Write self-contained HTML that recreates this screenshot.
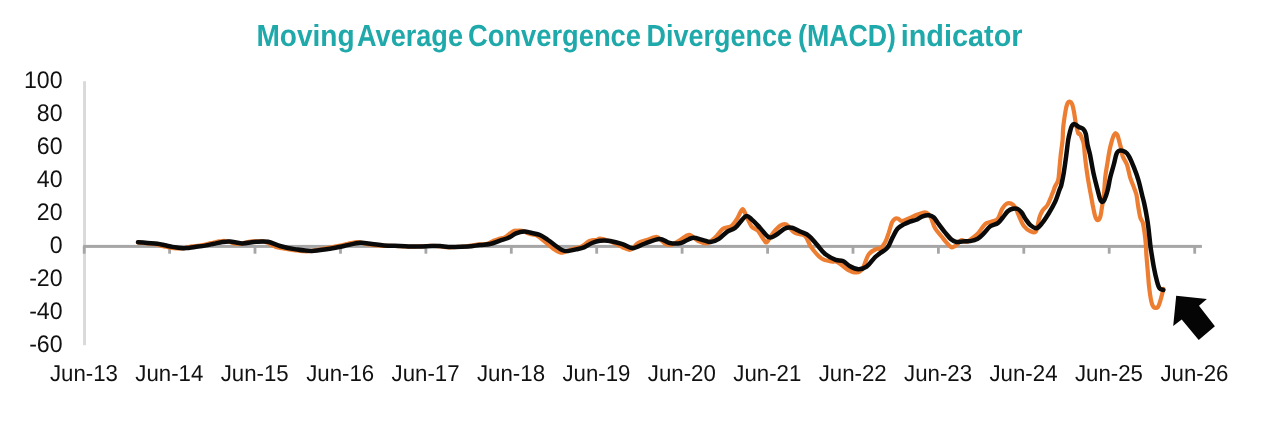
<!DOCTYPE html>
<html><head><meta charset="utf-8"><title>MACD</title>
<style>
html,body{margin:0;padding:0;background:#fff}
body{width:1280px;height:439px;overflow:hidden}
svg{display:block}
.lbl text{text-rendering:geometricPrecision;font-family:"Liberation Sans",sans-serif;font-size:24px;fill:#111}
.ttl text{text-rendering:geometricPrecision;font-family:"Liberation Sans",sans-serif;font-weight:bold;font-size:30.5px;fill:#1fa9aa}
</style></head><body>
<svg width="1280" height="439" viewBox="0 0 1280 439">
<rect width="1280" height="439" fill="#fff"/>
<g class="ttl" transform="translate(0 46.3)"><text y="0"><tspan x="256.40" textLength="98.20" lengthAdjust="spacingAndGlyphs">Moving</tspan> <tspan x="357.00" textLength="106.00" lengthAdjust="spacingAndGlyphs">Average</tspan> <tspan x="468.00" textLength="173.00" lengthAdjust="spacingAndGlyphs">Convergence</tspan> <tspan x="646.60" textLength="145.30" lengthAdjust="spacingAndGlyphs">Divergence</tspan> <tspan x="798.00" textLength="98.00" lengthAdjust="spacingAndGlyphs">(MACD)</tspan> <tspan x="900.70" textLength="121.80" lengthAdjust="spacingAndGlyphs">indicator</tspan></text></g>
<rect x="83.1" y="81.2" width="2.9" height="264" fill="#d9d9d9"/>
<rect x="83.2" y="244.9" width="1118.7" height="3" fill="#a6a6a6"/>
<rect x="82.8" y="246" width="2.8" height="7.7" fill="#a6a6a6"/><rect x="168.2" y="246" width="2.8" height="7.7" fill="#a6a6a6"/><rect x="253.6" y="246" width="2.8" height="7.7" fill="#a6a6a6"/><rect x="339.1" y="246" width="2.8" height="7.7" fill="#a6a6a6"/><rect x="424.5" y="246" width="2.8" height="7.7" fill="#a6a6a6"/><rect x="509.9" y="246" width="2.8" height="7.7" fill="#a6a6a6"/><rect x="595.3" y="246" width="2.8" height="7.7" fill="#a6a6a6"/><rect x="680.7" y="246" width="2.8" height="7.7" fill="#a6a6a6"/><rect x="766.2" y="246" width="2.8" height="7.7" fill="#a6a6a6"/><rect x="851.6" y="246" width="2.8" height="7.7" fill="#a6a6a6"/><rect x="937.0" y="246" width="2.8" height="7.7" fill="#a6a6a6"/><rect x="1022.4" y="246" width="2.8" height="7.7" fill="#a6a6a6"/><rect x="1107.8" y="246" width="2.8" height="7.7" fill="#a6a6a6"/><rect x="1193.3" y="246" width="2.8" height="7.7" fill="#a6a6a6"/>
<g class="lbl"><text transform="translate(62.6 87.6) scale(0.965 1)" text-anchor="end">100</text><text transform="translate(62.6 120.7) scale(0.965 1)" text-anchor="end">80</text><text transform="translate(62.6 153.8) scale(0.965 1)" text-anchor="end">60</text><text transform="translate(62.6 186.9) scale(0.965 1)" text-anchor="end">40</text><text transform="translate(62.6 220.0) scale(0.965 1)" text-anchor="end">20</text><text transform="translate(62.6 253.1) scale(0.965 1)" text-anchor="end">0</text><text transform="translate(62.6 286.1) scale(0.965 1)" text-anchor="end">-20</text><text transform="translate(62.6 319.2) scale(0.965 1)" text-anchor="end">-40</text><text transform="translate(62.6 352.3) scale(0.965 1)" text-anchor="end">-60</text><text style="font-size:23px" transform="translate(83.9 381.0) scale(0.967 1)" text-anchor="middle">Jun-13</text><text style="font-size:23px" transform="translate(169.3 381.0) scale(0.967 1)" text-anchor="middle">Jun-14</text><text style="font-size:23px" transform="translate(254.7 381.0) scale(0.967 1)" text-anchor="middle">Jun-15</text><text style="font-size:23px" transform="translate(340.2 381.0) scale(0.967 1)" text-anchor="middle">Jun-16</text><text style="font-size:23px" transform="translate(425.6 381.0) scale(0.967 1)" text-anchor="middle">Jun-17</text><text style="font-size:23px" transform="translate(511.0 381.0) scale(0.967 1)" text-anchor="middle">Jun-18</text><text style="font-size:23px" transform="translate(596.4 381.0) scale(0.967 1)" text-anchor="middle">Jun-19</text><text style="font-size:23px" transform="translate(681.8 381.0) scale(0.967 1)" text-anchor="middle">Jun-20</text><text style="font-size:23px" transform="translate(767.3 381.0) scale(0.967 1)" text-anchor="middle">Jun-21</text><text style="font-size:23px" transform="translate(852.7 381.0) scale(0.967 1)" text-anchor="middle">Jun-22</text><text style="font-size:23px" transform="translate(938.1 381.0) scale(0.967 1)" text-anchor="middle">Jun-23</text><text style="font-size:23px" transform="translate(1023.5 381.0) scale(0.967 1)" text-anchor="middle">Jun-24</text><text style="font-size:23px" transform="translate(1108.9 381.0) scale(0.967 1)" text-anchor="middle">Jun-25</text><text style="font-size:23px" transform="translate(1194.4 381.0) scale(0.967 1)" text-anchor="middle">Jun-26</text></g>
<path d="M138.0 242.4C138.5 242.5 140.0 242.7 141.0 242.8C142.0 243.0 143.0 243.0 144.0 243.1C145.0 243.2 146.0 243.2 147.0 243.3C148.0 243.4 149.0 243.5 150.0 243.6C151.0 243.7 152.0 243.7 153.0 243.9C154.0 244.0 155.0 244.1 156.0 244.3C157.0 244.5 158.0 244.8 159.0 245.1C160.0 245.3 161.0 245.6 162.0 245.9C163.0 246.2 164.0 246.4 165.0 246.6C166.0 246.9 167.0 247.1 168.0 247.3C169.0 247.5 170.0 247.7 171.0 247.8C172.0 247.9 173.0 248.0 174.0 248.1C175.0 248.2 176.0 248.3 177.0 248.3C178.0 248.4 179.0 248.5 180.0 248.5C181.0 248.5 182.0 248.5 183.0 248.3C184.0 248.2 185.0 248.0 186.0 247.8C187.0 247.6 188.0 247.3 189.0 247.0C190.0 246.8 191.0 246.6 192.0 246.4C193.0 246.3 194.0 246.2 195.0 246.1C196.0 246.0 197.0 245.9 198.0 245.8C199.0 245.7 200.0 245.6 201.0 245.4C202.0 245.2 203.0 245.0 204.0 244.8C205.0 244.6 206.0 244.3 207.0 244.1C208.0 243.9 209.0 243.6 210.0 243.3C211.0 243.1 212.0 242.9 213.0 242.7C214.0 242.4 215.0 242.2 216.0 242.0C217.0 241.8 218.0 241.6 219.0 241.4C220.0 241.3 221.0 241.1 222.0 241.1C223.0 241.0 224.0 240.9 225.0 241.0C226.0 241.0 227.0 241.2 228.0 241.4C229.0 241.6 230.0 242.0 231.0 242.4C232.0 242.7 233.0 243.1 234.0 243.4C235.0 243.6 236.0 243.8 237.0 243.9C238.0 244.0 239.0 244.0 240.0 243.9C241.0 243.7 242.0 243.5 243.0 243.3C244.0 243.0 245.0 242.7 246.0 242.5C247.0 242.2 248.0 242.0 249.0 241.8C250.0 241.7 251.0 241.5 252.0 241.4C253.0 241.3 254.0 241.3 255.0 241.3C256.0 241.3 257.0 241.3 258.0 241.3C259.0 241.3 260.0 241.2 261.0 241.2C262.0 241.3 263.0 241.4 264.0 241.6C265.0 241.8 266.0 242.1 267.0 242.5C268.0 242.9 269.0 243.5 270.0 244.0C271.0 244.5 272.0 245.2 273.0 245.7C274.0 246.2 275.0 246.6 276.0 247.0C277.0 247.3 278.0 247.4 279.0 247.6C280.0 247.8 281.0 247.9 282.0 248.1C283.0 248.2 284.0 248.5 285.0 248.6C286.0 248.8 287.0 249.0 288.0 249.2C289.0 249.4 290.0 249.5 291.0 249.7C292.0 249.8 293.0 250.0 294.0 250.1C295.0 250.2 296.0 250.4 297.0 250.5C298.0 250.6 299.0 250.8 300.0 250.9C301.0 251.0 302.0 251.1 303.0 251.2C304.0 251.2 305.0 251.3 306.0 251.3C307.0 251.3 308.0 251.3 309.0 251.2C310.0 251.1 311.0 251.0 312.0 250.9C313.0 250.8 314.0 250.6 315.0 250.4C316.0 250.2 317.0 250.0 318.0 249.8C319.0 249.6 320.0 249.4 321.0 249.2C322.0 249.0 323.0 248.9 324.0 248.7C325.0 248.5 326.0 248.3 327.0 248.2C328.0 248.0 329.0 247.8 330.0 247.7C331.0 247.5 332.0 247.3 333.0 247.0C334.0 246.8 335.0 246.6 336.0 246.4C337.0 246.2 338.0 246.0 339.0 245.8C340.0 245.6 341.0 245.4 342.0 245.2C343.0 245.0 344.0 244.8 345.0 244.5C346.0 244.3 347.0 244.0 348.0 243.8C349.0 243.5 350.0 243.3 351.0 243.0C352.0 242.8 353.0 242.6 354.0 242.5C355.0 242.4 356.0 242.2 357.0 242.2C358.0 242.2 359.0 242.3 360.0 242.4C361.0 242.5 362.0 242.8 363.0 243.1C364.0 243.3 365.0 243.6 366.0 243.9C367.0 244.1 368.0 244.3 369.0 244.5C370.0 244.6 371.0 244.7 372.0 244.8C373.0 244.9 374.0 245.0 375.0 245.1C376.0 245.3 377.0 245.4 378.0 245.5C379.0 245.6 380.0 245.7 381.0 245.8C382.0 245.8 383.0 245.8 384.0 245.8C385.0 245.9 386.0 245.9 387.0 245.9C388.0 245.9 389.0 245.9 390.0 245.9C391.0 245.9 392.0 245.9 393.0 246.0C394.0 246.0 395.0 246.0 396.0 246.0C397.0 246.1 398.0 246.1 399.0 246.2C400.0 246.2 401.0 246.3 402.0 246.3C403.0 246.4 404.0 246.5 405.0 246.5C406.0 246.6 407.0 246.6 408.0 246.6C409.0 246.7 410.0 246.7 411.0 246.7C412.0 246.7 413.0 246.7 414.0 246.7C415.0 246.6 416.0 246.6 417.0 246.5C418.0 246.5 419.0 246.4 420.0 246.3C421.0 246.3 422.0 246.2 423.0 246.1C424.0 246.1 425.0 246.0 426.0 246.0C427.0 245.9 428.0 245.9 429.0 245.9C430.0 245.8 431.0 245.8 432.0 245.8C433.0 245.8 434.0 245.8 435.0 245.8C436.0 245.9 437.0 246.0 438.0 246.1C439.0 246.2 440.0 246.4 441.0 246.5C442.0 246.7 443.0 246.9 444.0 247.0C445.0 247.1 446.0 247.2 447.0 247.2C448.0 247.3 449.0 247.3 450.0 247.3C451.0 247.2 452.0 247.2 453.0 247.1C454.0 247.1 455.0 247.0 456.0 247.0C457.0 247.0 458.0 246.9 459.0 246.9C460.0 246.8 461.0 246.8 462.0 246.7C463.0 246.6 464.0 246.6 465.0 246.5C466.0 246.4 467.0 246.3 468.0 246.1C469.0 246.0 470.0 245.8 471.0 245.6C472.0 245.4 473.0 245.2 474.0 245.0C475.0 244.8 476.0 244.6 477.0 244.5C478.0 244.4 479.0 244.4 480.0 244.3C481.0 244.3 482.0 244.3 483.0 244.3C484.0 244.2 485.0 244.2 486.0 244.0C487.0 243.8 488.0 243.5 489.0 243.1C490.0 242.7 491.0 242.2 492.0 241.7C493.0 241.2 494.0 240.7 495.0 240.3C496.0 239.9 497.0 239.5 498.0 239.2C499.0 238.8 500.0 238.6 501.0 238.4C502.0 238.1 503.0 238.0 504.0 237.6C505.0 237.1 506.0 236.6 507.0 235.9C508.0 235.3 509.0 234.3 510.0 233.5C511.0 232.8 512.0 232.0 513.0 231.5C514.0 231.0 515.0 230.8 516.0 230.7C517.0 230.5 518.0 230.5 519.0 230.5C520.0 230.5 521.0 230.5 522.0 230.7C523.0 230.9 524.0 231.4 525.0 231.8C526.0 232.2 527.0 232.9 528.0 233.3C529.0 233.7 530.0 234.0 531.0 234.2C532.0 234.4 533.0 234.4 534.0 234.7C535.0 234.9 536.0 235.1 537.0 235.6C538.0 236.1 539.0 236.8 540.0 237.6C541.0 238.4 542.0 239.4 543.0 240.2C544.0 241.1 545.0 241.9 546.0 242.7C547.0 243.5 548.0 244.3 549.0 245.1C550.0 245.9 551.0 246.7 552.0 247.5C553.0 248.3 554.0 249.1 555.0 249.8C556.0 250.5 557.0 251.2 558.0 251.7C559.0 252.2 560.0 252.6 561.0 252.7C562.0 252.8 563.0 252.4 564.0 252.2C565.0 251.9 566.0 251.5 567.0 251.1C568.0 250.7 569.0 250.3 570.0 249.9C571.0 249.5 572.0 249.1 573.0 248.8C574.0 248.5 575.0 248.3 576.0 248.1C577.0 247.8 578.0 247.8 579.0 247.5C580.0 247.2 581.0 246.8 582.0 246.2C583.0 245.7 584.0 244.8 585.0 244.1C586.0 243.3 587.0 242.3 588.0 241.7C589.0 241.1 590.0 240.7 591.0 240.5C592.0 240.2 593.0 240.2 594.0 240.1C595.0 240.0 596.0 240.2 597.0 239.9C598.0 239.6 598.2 238.4 600.0 238.5C601.8 238.6 605.3 239.6 608.0 240.5C610.7 241.4 613.9 242.8 616.4 244.0C618.9 245.2 620.8 246.5 623.0 247.5C625.2 248.5 627.9 249.9 629.7 249.8C631.5 249.7 632.6 248.1 634.0 247.0C635.4 245.9 635.8 244.2 638.0 243.0C640.2 241.8 643.9 241.0 647.0 240.0C650.1 239.0 654.1 236.9 656.4 236.9C658.7 236.9 659.5 238.8 661.0 240.0C662.5 241.2 663.8 243.2 665.6 244.0C667.4 244.8 669.8 245.0 671.7 244.7C673.6 244.4 675.3 243.0 677.0 242.0C678.7 241.0 680.0 240.1 682.0 238.9C684.0 237.7 686.5 234.5 689.2 234.8C691.9 235.2 695.5 239.6 698.4 241.0C701.3 242.4 703.9 243.9 706.6 243.4C709.3 242.9 712.1 240.4 714.8 237.9C717.5 235.4 720.3 230.6 723.0 228.7C725.7 226.8 728.8 227.9 731.2 226.2C733.6 224.5 735.4 221.2 737.3 218.4C739.2 215.6 740.9 209.5 742.4 209.2C743.9 208.9 745.0 213.5 746.5 216.4C748.0 219.3 749.8 224.2 751.7 226.6C753.6 229.0 755.8 228.5 757.8 230.7C759.8 232.9 762.5 238.1 764.0 240.0C765.5 241.9 765.5 243.2 767.0 242.0C768.5 240.8 771.0 235.5 773.2 232.8C775.4 230.1 778.2 227.0 780.4 225.6C782.6 224.2 784.1 223.4 786.5 224.6C788.9 225.8 791.6 230.9 794.7 232.8C797.8 234.7 802.3 233.5 805.0 235.9C807.7 238.3 808.4 243.3 811.1 247.1C813.8 250.8 818.0 256.0 821.4 258.4C824.8 260.8 829.2 261.0 831.6 261.5C834.0 262.0 834.6 261.1 836.0 261.5C837.4 261.9 838.0 262.3 840.0 263.7C842.0 265.1 845.3 268.3 848.0 269.8C850.7 271.3 854.0 272.7 856.4 272.5C858.8 272.3 860.5 271.8 862.5 268.8C864.5 265.8 866.3 257.8 868.7 254.4C871.1 251.1 875.0 249.6 876.9 248.7C878.8 247.8 878.6 249.9 880.0 248.9C881.4 247.9 883.5 245.3 885.0 242.6C886.5 239.9 887.6 235.9 888.8 232.6C889.9 229.3 890.9 224.9 891.9 222.6C892.9 220.3 894.0 219.4 895.0 218.8C896.0 218.2 897.1 218.4 898.2 218.8C899.4 219.2 900.1 221.1 901.9 221.0C903.7 220.9 906.4 219.5 908.8 218.5C911.2 217.5 913.8 216.0 916.3 215.0C918.8 214.0 921.9 212.7 923.9 212.5C925.9 212.3 927.0 212.8 928.2 213.8C929.5 214.9 930.2 216.4 931.4 218.8C932.5 221.2 933.4 225.3 935.1 228.2C936.8 231.1 939.3 233.7 941.4 236.3C943.5 238.9 945.9 242.1 947.7 243.9C949.5 245.8 950.5 247.2 952.0 247.4C953.5 247.6 954.8 246.3 956.4 245.1C958.0 243.9 959.8 240.6 961.5 240.1C963.2 239.6 964.8 242.2 966.5 242.0C968.2 241.8 969.6 240.2 971.5 238.8C973.4 237.4 975.8 235.8 977.7 233.8C979.6 231.8 981.3 228.7 982.8 226.9C984.3 225.1 984.8 224.1 986.5 223.2C988.2 222.3 990.9 222.0 992.8 221.3C994.7 220.6 996.2 220.9 997.8 218.8C999.4 216.7 1000.7 211.3 1002.2 208.8C1003.7 206.3 1005.1 204.7 1006.6 203.8C1008.1 202.9 1009.5 202.9 1011.0 203.5C1012.5 204.1 1013.9 205.4 1015.3 207.5C1016.6 209.6 1017.6 213.2 1019.1 216.3C1020.6 219.4 1022.2 223.8 1024.1 226.3C1026.0 228.8 1028.4 230.5 1030.4 231.3C1032.4 232.1 1034.5 233.6 1036.0 231.3C1037.5 229.0 1038.3 221.0 1039.4 217.6C1040.5 214.2 1041.2 212.8 1042.5 210.7C1043.8 208.6 1046.0 207.4 1047.5 205.0C1049.0 202.6 1050.2 198.8 1051.3 196.3C1052.3 193.8 1053.2 191.7 1053.8 190.0C1054.4 188.3 1054.3 188.1 1055.0 186.4C1055.7 184.8 1057.5 183.0 1058.2 180.1C1058.9 177.2 1059.0 173.0 1059.4 168.8C1059.8 164.6 1060.2 159.8 1060.7 155.0C1061.2 150.2 1062.2 144.6 1062.6 140.0C1063.0 135.4 1062.7 132.6 1063.2 127.6C1063.7 122.6 1065.0 114.1 1065.7 110.0C1066.4 105.9 1067.0 104.5 1067.6 103.1C1068.2 101.7 1068.8 101.4 1069.5 101.5C1070.2 101.6 1071.3 102.2 1072.0 103.8C1072.7 105.4 1073.3 108.2 1073.9 111.3C1074.5 114.4 1075.0 118.9 1075.7 122.6C1076.4 126.2 1077.5 131.3 1078.2 133.2C1078.9 135.1 1079.3 132.8 1080.0 133.9C1080.7 135.1 1081.9 138.2 1082.6 140.1C1083.2 141.9 1083.5 142.1 1083.9 145.0C1084.3 147.9 1084.6 152.9 1085.1 157.5C1085.6 162.1 1086.3 167.6 1087.0 172.6C1087.7 177.6 1088.5 182.2 1089.5 187.6C1090.5 193.0 1091.8 200.2 1092.7 205.0C1093.7 209.8 1094.4 213.8 1095.2 216.3C1096.0 218.8 1096.6 220.0 1097.4 220.1C1098.2 220.2 1099.4 219.3 1100.2 217.0C1101.0 214.7 1101.5 210.0 1102.1 206.3C1102.7 202.6 1103.4 199.8 1103.9 195.0C1104.4 190.2 1104.6 183.2 1105.2 177.6C1105.8 172.0 1107.0 165.9 1107.7 161.3C1108.4 156.7 1108.9 153.6 1109.6 150.0C1110.3 146.4 1111.4 142.5 1112.1 140.0C1112.8 137.5 1113.4 136.2 1114.0 135.1C1114.6 134.0 1115.2 133.1 1115.8 133.2C1116.4 133.3 1117.0 133.7 1117.7 135.7C1118.4 137.7 1119.6 142.6 1120.2 145.0C1120.8 147.4 1121.1 148.1 1121.5 150.0C1121.9 151.9 1121.8 153.8 1122.7 156.3C1123.6 158.8 1125.8 161.4 1127.1 165.0C1128.3 168.6 1129.0 173.8 1130.2 177.6C1131.4 181.4 1133.0 184.7 1134.0 187.6C1135.0 190.5 1135.9 192.3 1136.5 195.0C1137.1 197.7 1137.2 200.0 1137.8 203.8C1138.4 207.6 1139.5 214.5 1140.3 217.6C1141.1 220.7 1142.1 219.9 1142.8 222.6C1143.5 225.3 1144.2 230.2 1144.7 233.9C1145.2 237.6 1145.6 241.5 1145.9 245.0C1146.2 248.5 1146.0 249.6 1146.4 255.0C1146.8 260.4 1147.9 272.6 1148.3 277.6C1148.7 282.6 1148.5 281.5 1148.9 285.0C1149.3 288.5 1150.2 295.6 1150.8 298.8C1151.3 302.1 1151.7 303.1 1152.2 304.5C1152.7 305.9 1153.4 306.8 1154.0 307.4C1154.6 308.0 1155.4 307.9 1156.0 307.9C1156.6 307.9 1157.2 307.8 1157.8 307.2C1158.3 306.6 1158.7 305.6 1159.3 304.0C1159.9 302.4 1160.5 300.1 1161.2 297.6C1161.9 295.1 1163.0 290.3 1163.3 288.8" fill="none" stroke="#ed7d31" stroke-width="4.2" stroke-linecap="round" stroke-linejoin="round"/>
<path d="M138.0 242.2C139.6 242.3 144.2 242.6 147.5 242.9C150.8 243.2 154.6 243.4 157.5 243.8C160.4 244.2 162.5 244.8 165.0 245.3C167.5 245.8 170.0 246.5 172.5 246.9C175.0 247.3 177.7 247.7 180.0 247.9C182.3 248.1 183.8 248.3 186.3 248.1C188.8 247.9 191.9 247.3 195.0 246.9C198.1 246.5 201.9 246.1 205.0 245.6C208.1 245.1 210.9 244.4 213.8 243.8C216.7 243.2 219.8 242.4 222.5 242.0C225.2 241.6 226.8 241.3 230.0 241.5C233.2 241.7 237.7 243.3 242.0 243.4C246.3 243.5 251.7 242.1 256.0 241.8C260.3 241.5 264.0 241.1 268.0 241.8C272.0 242.5 275.3 244.7 280.0 246.0C284.7 247.3 290.7 248.6 296.0 249.4C301.3 250.2 306.7 251.1 312.0 251.0C317.3 250.9 322.7 249.8 328.0 249.0C333.3 248.2 338.7 247.0 344.0 246.0C349.3 245.0 355.3 243.1 360.0 242.8C364.7 242.5 368.0 243.6 372.0 244.0C376.0 244.4 379.3 245.1 384.0 245.4C388.7 245.7 394.7 245.8 400.0 246.0C405.3 246.2 410.7 246.6 416.0 246.6C421.3 246.6 428.0 246.1 432.0 246.0C436.0 245.9 436.7 245.8 440.0 246.0C443.3 246.2 447.3 246.9 452.0 247.0C456.7 247.1 463.3 246.9 468.0 246.6C472.7 246.3 476.3 245.4 480.0 245.0C483.7 244.6 486.7 244.7 490.0 244.0C493.3 243.3 497.0 241.6 500.0 240.6C503.0 239.6 505.3 239.2 508.0 238.0C510.7 236.8 513.3 234.5 516.0 233.4C518.7 232.3 521.3 231.5 524.0 231.4C526.7 231.3 529.3 232.4 532.0 233.0C534.7 233.6 537.3 233.8 540.0 235.0C542.7 236.2 545.3 238.2 548.0 240.0C550.7 241.8 553.7 244.3 556.0 246.0C558.3 247.7 560.0 249.2 562.0 250.0C564.0 250.8 565.7 251.1 568.0 251.0C570.3 250.9 573.3 250.0 576.0 249.4C578.7 248.8 581.3 248.5 584.0 247.4C586.7 246.3 589.3 244.1 592.0 243.0C594.7 241.9 597.0 241.1 600.0 240.8C603.0 240.5 606.5 240.4 610.2 241.0C614.0 241.6 618.7 242.9 622.5 244.1C626.3 245.3 629.0 248.3 632.8 248.2C636.5 248.1 640.6 245.1 645.0 243.5C649.4 241.9 655.3 239.0 659.4 238.9C663.5 238.8 666.1 242.3 669.7 243.0C673.3 243.7 677.2 243.8 681.0 243.0C684.8 242.2 688.6 238.4 692.2 237.9C695.8 237.4 699.4 239.3 702.5 240.0C705.6 240.7 708.0 242.2 710.7 242.0C713.4 241.8 716.2 240.6 718.9 238.9C721.6 237.2 724.3 233.7 727.0 231.8C729.7 229.9 732.2 230.3 735.3 227.7C738.4 225.1 742.8 217.8 745.5 216.4C748.2 215.0 749.3 217.6 751.7 219.5C754.1 221.4 757.0 224.7 759.9 227.7C762.8 230.7 766.3 236.1 769.0 237.3C771.7 238.5 773.7 236.2 776.3 234.8C778.9 233.4 782.0 229.9 784.5 228.7C787.0 227.5 788.9 227.2 791.6 227.7C794.3 228.2 798.0 230.4 800.9 231.8C803.8 233.2 806.3 233.7 809.0 235.9C811.7 238.1 814.5 242.0 817.3 245.1C820.0 248.2 822.4 251.9 825.5 254.3C828.6 256.8 832.8 258.7 835.7 259.8C838.6 260.9 840.5 259.9 842.9 261.0C845.3 262.1 847.4 264.8 850.0 266.2C852.6 267.6 855.6 269.1 858.4 269.2C861.2 269.3 863.9 268.6 866.6 266.7C869.3 264.8 872.6 259.7 874.8 257.5C877.0 255.3 877.9 255.0 880.0 253.3C882.1 251.7 885.4 250.2 887.5 247.6C889.6 245.0 890.8 240.7 892.5 237.6C894.2 234.5 895.6 231.0 897.5 228.8C899.4 226.6 901.7 225.6 903.8 224.4C905.9 223.2 907.9 222.4 910.0 221.6C912.1 220.8 914.2 220.7 916.3 219.8C918.4 218.9 920.5 217.1 922.6 216.3C924.7 215.6 927.0 215.1 928.9 215.3C930.8 215.5 932.2 216.0 933.9 217.5C935.6 219.0 937.0 221.9 938.9 224.4C940.8 226.9 943.1 230.1 945.2 232.6C947.3 235.1 949.5 237.9 951.4 239.5C953.3 241.1 954.5 241.7 956.4 242.0C958.3 242.3 960.4 241.6 962.7 241.4C965.0 241.2 967.7 241.5 970.2 241.1C972.7 240.7 975.4 240.1 977.7 238.8C980.0 237.5 981.9 235.3 984.0 233.2C986.1 231.1 988.0 228.0 990.3 226.3C992.6 224.6 995.7 224.7 997.8 223.2C999.9 221.7 1001.1 219.5 1002.8 217.5C1004.5 215.5 1006.1 212.8 1007.8 211.3C1009.5 209.9 1011.1 209.2 1012.8 208.8C1014.5 208.4 1016.3 208.4 1017.8 209.0C1019.3 209.6 1020.3 210.9 1021.6 212.5C1022.9 214.1 1023.9 216.7 1025.4 218.8C1026.9 220.9 1028.5 223.5 1030.4 225.1C1032.3 226.7 1034.6 228.6 1036.6 228.2C1038.6 227.8 1040.5 225.1 1042.5 222.6C1044.5 220.1 1046.7 216.6 1048.8 213.2C1050.9 209.8 1053.3 205.8 1055.1 201.9C1056.9 198.0 1058.4 192.8 1059.4 190.0C1060.4 187.2 1060.6 188.0 1061.3 185.1C1062.0 182.2 1063.0 177.6 1063.8 172.6C1064.6 167.6 1065.6 160.4 1066.3 155.0C1067.0 149.6 1067.6 143.9 1068.2 140.0C1068.8 136.1 1069.5 133.8 1070.1 131.4C1070.7 129.0 1071.3 126.9 1072.0 125.7C1072.7 124.5 1073.3 123.9 1074.5 124.1C1075.7 124.3 1077.4 126.2 1078.9 127.0C1080.4 127.8 1082.2 127.9 1083.3 129.1C1084.4 130.2 1085.1 131.2 1085.8 133.9C1086.5 136.6 1086.9 141.5 1087.6 145.0C1088.3 148.5 1089.0 150.0 1090.1 155.0C1091.1 160.0 1092.5 168.8 1093.9 175.1C1095.3 181.4 1097.3 188.6 1098.3 192.6C1099.3 196.6 1099.4 197.2 1100.0 198.8C1100.6 200.4 1101.3 201.8 1102.1 201.9C1102.9 202.0 1103.7 201.4 1104.6 199.4C1105.5 197.4 1106.8 193.6 1107.7 190.0C1108.6 186.4 1109.2 182.0 1110.2 177.6C1111.2 173.2 1113.0 167.8 1114.0 163.8C1115.0 159.8 1115.6 156.0 1116.5 153.8C1117.4 151.6 1118.1 150.9 1119.6 150.6C1121.0 150.3 1123.6 150.9 1125.2 151.9C1126.8 152.9 1127.5 153.7 1129.0 156.3C1130.5 158.9 1132.4 163.6 1134.0 167.6C1135.6 171.6 1137.1 175.5 1138.4 180.1C1139.8 184.7 1141.2 191.3 1142.1 195.0C1143.0 198.7 1143.3 199.2 1144.0 202.5C1144.7 205.8 1145.8 210.9 1146.5 215.1C1147.2 219.3 1147.8 222.6 1148.4 227.6C1149.0 232.6 1149.8 240.8 1150.3 245.0C1150.8 249.2 1150.8 248.7 1151.4 252.5C1152.0 256.3 1153.0 262.8 1153.9 267.6C1154.8 272.4 1156.1 278.0 1157.0 281.4C1157.9 284.8 1158.5 286.8 1159.5 288.2C1160.5 289.6 1162.7 289.6 1163.3 289.9" fill="none" stroke="#0a0a0a" stroke-width="4.5" stroke-linecap="round" stroke-linejoin="round"/>
<polygon points="1176.2,295.7 1206.9,298.9 1199,305.8 1214.9,326.3 1198.7,339.9 1181.7,319.4 1173.2,326" fill="#050505"/>
</svg>
</body></html>
